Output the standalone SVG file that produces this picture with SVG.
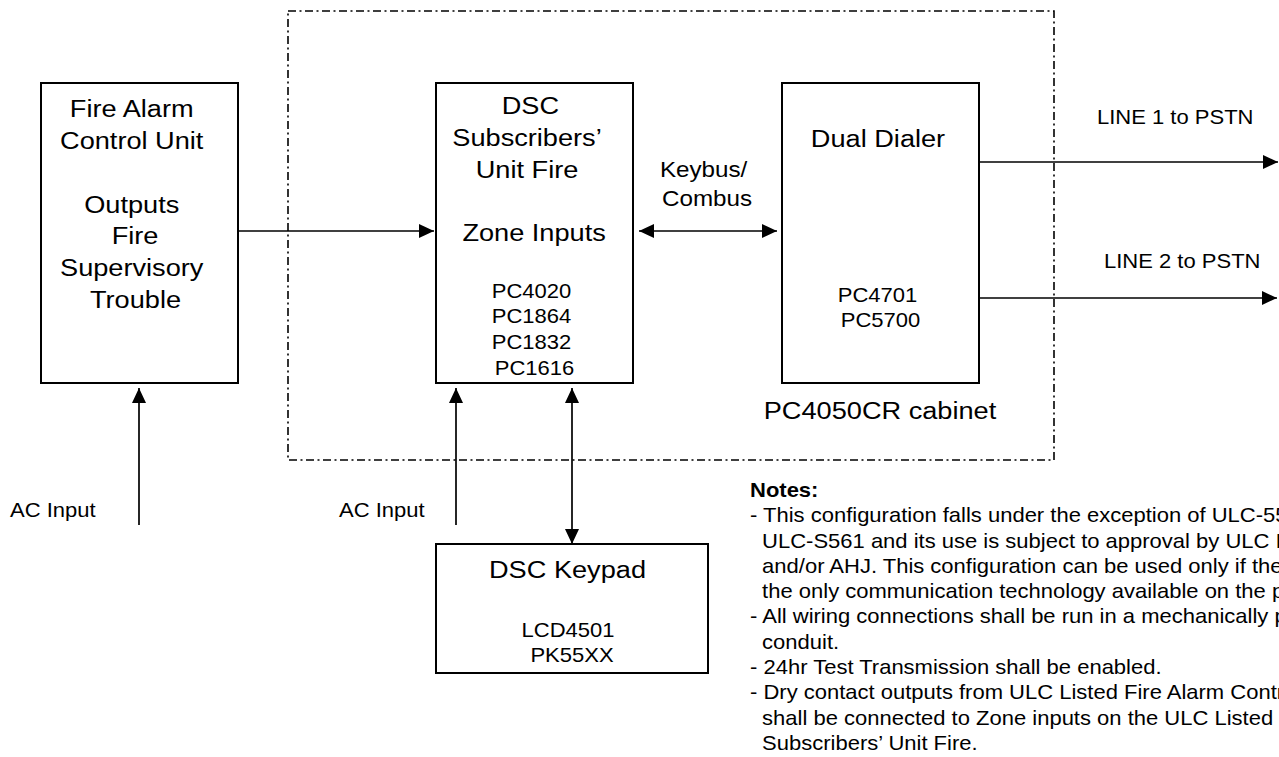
<svg xmlns="http://www.w3.org/2000/svg" width="1279" height="757" viewBox="0 0 1279 757">
<style>
  text { font-family: "Liberation Sans", Arial, Helvetica, sans-serif; fill: #000; }
  .big { font-size: 24.7px; text-anchor: middle; }
  .sm { font-size: 20px; text-anchor: middle; }
  .lbl { font-size: 20px; text-anchor: start; }
  .kb { font-size: 22px; text-anchor: middle; }
  .note { font-size: 20px; text-anchor: start; }
  .bold { font-weight: bold; }
  .box { fill: #fff; stroke: #000; stroke-width: 2; }
  .cab { fill: none; stroke: #000; stroke-width: 1.6; stroke-dasharray: 8 3.5 2 3.5; }
  .wire { fill: none; stroke: #000; stroke-width: 1.7; }
</style>
<defs>
  <marker id="ah" viewBox="0 0 15 14" markerUnits="userSpaceOnUse" markerWidth="15" markerHeight="14" refX="15" refY="7" orient="auto-start-reverse">
    <path d="M0,0 L15,7 L0,14 z" fill="#000"/>
  </marker>
</defs>
<rect width="1279" height="757" fill="#fff"/>

<g id="cabinet">
  <rect class="cab" x="288" y="11" width="766" height="449"/>
  <text class="big" transform="translate(880,0) scale(1.1,1)" x="0" y="419">PC4050CR cabinet</text>
</g>

<g id="connectors">
  <line class="wire" x1="238" y1="231" x2="434" y2="231" marker-end="url(#ah)"/>
  <line class="wire" x1="639" y1="231" x2="777" y2="231" marker-start="url(#ah)" marker-end="url(#ah)"/>
  <line class="wire" x1="979" y1="162" x2="1278" y2="162" marker-end="url(#ah)"/>
  <line class="wire" x1="979" y1="298" x2="1277" y2="298" marker-end="url(#ah)"/>
  <line class="wire" x1="139" y1="525" x2="139" y2="388" marker-end="url(#ah)"/>
  <line class="wire" x1="456" y1="525" x2="456" y2="388" marker-end="url(#ah)"/>
  <line class="wire" x1="572" y1="388" x2="572" y2="544" marker-start="url(#ah)" marker-end="url(#ah)"/>
</g>

<g id="fire-alarm-control-unit">
  <rect class="box" x="41" y="83" width="197" height="300"/>
  <text class="big" transform="translate(135.5,0) scale(1.1,1)">
    <tspan x="0" y="117">Fire Alarm</tspan>
    <tspan x="0" y="149">Control Unit</tspan>
    <tspan x="0" y="213">Outputs</tspan>
    <tspan x="3" y="244.5">Fire</tspan>
    <tspan x="0" y="276.5">Supervisory</tspan>
    <tspan x="0" y="308">Trouble</tspan>
  </text>
</g>

<g id="dsc-subscribers-unit">
  <rect class="box" x="436" y="83" width="197" height="300"/>
  <text class="big" transform="translate(533,0) scale(1.1,1)">
    <tspan x="1" y="114">DSC</tspan>
    <tspan x="-2" y="146">Subscribers’</tspan>
    <tspan x="-2" y="178">Unit Fire</tspan>
    <tspan x="1" y="241">Zone Inputs</tspan>
  </text>
  <text class="sm" transform="translate(534.5,0) scale(1.1,1)">
    <tspan x="0" y="298">PC4020</tspan>
    <tspan x="0" y="323.5">PC1864</tspan>
    <tspan x="0" y="349">PC1832</tspan>
    <tspan x="0" y="375">PC1616</tspan>
  </text>
</g>

<g id="dual-dialer">
  <rect class="box" x="782" y="83" width="197" height="300"/>
  <text class="big" transform="translate(878,0) scale(1.1,1)" x="0" y="147">Dual Dialer</text>
  <text class="sm" transform="translate(880.5,0) scale(1.1,1)">
    <tspan x="0" y="302">PC4701</tspan>
    <tspan x="0" y="327">PC5700</tspan>
  </text>
</g>

<g id="dsc-keypad">
  <rect class="box" x="436" y="544" width="272" height="129"/>
  <text class="big" transform="translate(567.5,0) scale(1.1,1)" x="0" y="578">DSC Keypad</text>
  <text class="sm" transform="translate(568,0) scale(1.1,1)" x="0" y="637">LCD4501</text>
  <text class="sm" transform="translate(572,0) scale(1.1,1)" x="0" y="662">PK55XX</text>
</g>

<g id="labels">
  <text class="kb" transform="translate(707,0) scale(1.1,1)">
    <tspan x="0" y="177">Keybus/</tspan>
    <tspan x="0" y="206">Combus</tspan>
  </text>
  <text class="lbl" transform="translate(1097,0) scale(1.1,1)" x="0" y="124">LINE 1 to PSTN</text>
  <text class="lbl" transform="translate(1104,0) scale(1.1,1)" x="0" y="268">LINE 2 to PSTN</text>
  <text class="lbl" transform="translate(10,0) scale(1.1,1)" x="0" y="517">AC Input</text>
  <text class="lbl" transform="translate(339,0) scale(1.1,1)" x="0" y="517">AC Input</text>
</g>

<g id="notes">
  <text class="note" transform="translate(750,0) scale(1.1,1)">
    <tspan class="bold" x="0" y="497">Notes:</tspan>
    <tspan x="0" y="522.3">- This configuration falls under the exception of ULC-55</tspan>
    <tspan x="11" y="547.6">ULC-S561 and its use is subject to approval by ULC I</tspan>
    <tspan x="11" y="572.9">and/or AHJ. This configuration can be used only if the</tspan>
    <tspan x="11" y="598.2">the only communication technology available on the p</tspan>
    <tspan x="0" y="623.5">- All wiring connections shall be run in a mechanically p</tspan>
    <tspan x="11" y="648.8">conduit.</tspan>
    <tspan x="0" y="674.1">- 24hr Test Transmission shall be enabled.</tspan>
    <tspan x="0" y="699.4">- Dry contact outputs from ULC Listed Fire Alarm Contr</tspan>
    <tspan x="11" y="724.7">shall be connected to Zone inputs on the ULC Listed</tspan>
    <tspan x="11" y="750">Subscribers’ Unit Fire.</tspan>
  </text>
</g>
</svg>
